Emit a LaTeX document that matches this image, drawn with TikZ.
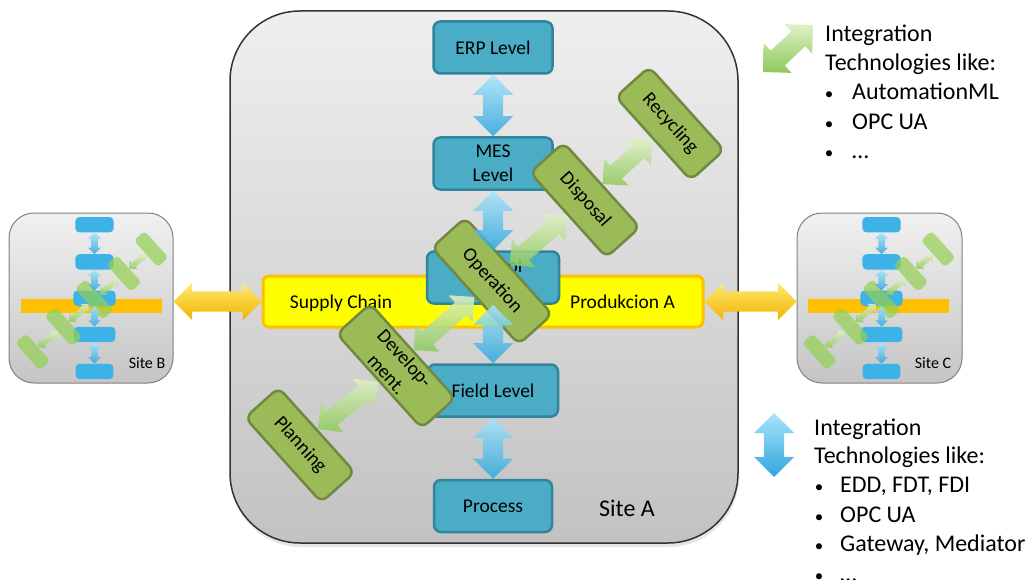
\documentclass[tikz,border=0pt]{standalone}
\usepackage{fontspec}
\setmainfont{Carlito}
\usetikzlibrary{shapes.arrows,calc,shadows}
\definecolor{boxblue}{HTML}{4BACC6}
\definecolor{boxblueD}{HTML}{31849B}
\definecolor{boxgreen}{HTML}{9BBB59}
\definecolor{boxgreenD}{HTML}{71893F}
\definecolor{ybarfill}{HTML}{FFFF00}
\definecolor{ybarline}{HTML}{FFC000}
\definecolor{arrblueL}{HTML}{A8E4FB}
\definecolor{arrblueD}{HTML}{30A6DC}
\definecolor{arrgreenL}{HTML}{E0F1C6}
\definecolor{arrgreenD}{HTML}{8DC958}
\definecolor{arryelL}{HTML}{FFEB70}
\definecolor{arryelD}{HTML}{F2B200}
\definecolor{siteTop}{HTML}{EFEFEF}
\definecolor{siteBot}{HTML}{C2C2C2}
\definecolor{miniblue}{HTML}{3DB2E6}
\definecolor{minigreen}{HTML}{92D050}
\definecolor{miniyellow}{HTML}{FFC000}

\newif\ifshowtext \showtexttrue
\newcommand\lbl[1]{\ifshowtext#1\fi}
\newcommand\lblfont{\fontsize{19.5}{24}\selectfont}
\newcommand\legfont{\fontsize{24}{29}\selectfont}

\newcommand\fatlink[3]{%
  \path let \p1=($(#3)-(#2)$), \n1={veclen(\x1,\y1)} in
    (#2) -- (#3) node[midway, sloped, #1, minimum height={\n1}] {};}

\newcommand\core[1]{%
  \node[chain] (#1ybar) at (483,301.5) {};
  \ifshowtext
    \node[font=\lblfont, anchor=base] (#1sc) at (341,308.3) {Supply Chain};
    \node[font=\lblfont, anchor=base] (#1pa) at (622.5,308.3) {Produkcion A};
  \fi
  \node[lvl] (#1erp) at (493,47.5) {\lbl{ERP Level}};
  \node[lvl] (#1mes) at (493,163.5) {\lbl{MES\\Level}};
  \node[lvl, minimum width=132pt] (#1ctl) at (493,277.5) {\lbl{Control\\Level}};
  \node[lvl, minimum width=130pt] (#1fld) at (493,390.5) {\lbl{Field Level}};
  \node[lvl, minimum width=118pt] (#1proc) at (493,506) {\lbl{Process}};
  \node[phase, minimum width=114pt] (#1plan) at (300,445) {\lbl{Planning}};
  \node[phase, minimum width=127pt] (#1dev) at (396,366) {\lbl{Develop-\\ment.}};
  \node[phase, minimum width=130pt] (#1op) at (492,281) {\lbl{Operation}};
  \node[phase, minimum width=114pt] (#1disp) at (585,200) {\lbl{Disposal}};
  \node[phase, minimum width=112pt] (#1rec) at (670,123.5) {\lbl{Recycling}};
  \fatlink{bluearr}{#1erp.south}{#1mes.north}
  \fatlink{bluearr}{#1mes.south}{#1ctl.north}
  \fatlink{bluearr}{#1ctl.south}{#1fld.north}
  \fatlink{bluearr}{#1fld.south}{#1proc.north}
  \fatlink{greenarr}{#1plan.north}{#1dev.south}
  \fatlink{greenarr}{#1dev.north}{#1op.south}
  \fatlink{greenarr}{#1op.north}{#1disp.south}
  \fatlink{greenarr}{#1disp.north}{#1rec.south}
}

\begin{document}
\begin{tikzpicture}[x=1pt, y=-1pt,
  lvl/.style={rectangle, rounded corners=7pt, draw=boxblueD, line width=2.5pt,
    fill=boxblue, minimum width=119pt, minimum height=52pt, align=center,
    font=\lblfont, inner sep=0pt},
  phase/.style={rectangle, rounded corners=8pt, draw=boxgreenD, line width=2.5pt,
    fill=boxgreen, minimum height=45pt, rotate=-48, align=center,
    font=\lblfont, inner sep=0pt},
  chain/.style={rectangle, rounded corners=6pt, draw=ybarline, line width=3pt,
    fill=ybarfill, minimum width=440pt, minimum height=51pt},
  fat/.style={double arrow, draw=none, inner xsep=0pt, inner ysep=10pt,
    double arrow head extend=10pt, double arrow tip angle=90, minimum width=0pt},
  bluearr/.style={fat, top color=arrblueL, bottom color=arrblueD, opacity=0.85},
  greenarr/.style={fat, inner ysep=8.5pt, double arrow head extend=9.5pt,
    top color=arrgreenL, bottom color=arrgreenD, opacity=0.85},
  yelarr/.style={fat, double arrow head extend=8.5pt,
    top color=arryelL, bottom color=arryelD},
  sitebox/.style={rectangle, draw=black!80, line width=1.5pt,
    top color=siteTop, bottom color=siteBot,
    drop shadow={shadow xshift=1pt, shadow yshift=-4pt, opacity=0.2}},
  smallsite/.style={rectangle, draw=black!50, line width=1pt, rounded corners=25pt,
    top color=siteTop!90!white, bottom color=siteBot!95!white},
  minisite/.style={transform shape,
    lvl/.style={rectangle, rounded corners=4pt, fill=miniblue,
      minimum width=119pt, minimum height=48pt, inner sep=0pt},
    phase/.style={rectangle, rounded corners=4pt, fill=minigreen, fill opacity=0.7,
      minimum height=45pt, rotate=-48, inner sep=0pt},
    chain/.style={rectangle, fill=miniyellow, minimum width=440pt, minimum height=44pt}},
  legtext/.style={font=\legfont, anchor=base west, inner sep=0pt},
  legbullet/.style={font=\fontsize{17}{20}\selectfont, anchor=base, inner sep=0pt}
]
\useasboundingbox (0,0) rectangle (1032,580);

% Site A
\node[sitebox, minimum width=508pt, minimum height=532pt, rounded corners=70pt]
  (siteA) at (484,277) {};
\node[font=\fontsize{24}{28}\selectfont, anchor=base] (siteAlbl) at (627,516.7) {Site A};

% Site B and C
\node[smallsite, minimum width=164pt, minimum height=170pt] (siteB) at (91,298) {};
\node[smallsite, minimum width=165pt, minimum height=170pt] (siteC) at (879.5,298) {};
\begin{scope}[shift={(94.5,306)}, scale=0.32, shift={(-493,-301.5)}, minisite]
  \showtextfalse
  \core{b}
\end{scope}
\begin{scope}[shift={(881.5,306)}, scale=0.32, shift={(-493,-301.5)}, minisite]
  \showtextfalse
  \core{c}
\end{scope}
\node[font=\fontsize{16}{19}\selectfont, anchor=base] (siteBlbl) at (147,368) {Site B};
\node[font=\fontsize{16}{19}\selectfont, anchor=base] (siteClbl) at (933,368) {Site C};

% Main content of Site A
\core{}

% links between sites
\coordinate (bE) at (siteB.east |- ybar.west);
\coordinate (cW) at (siteC.west |- ybar.east);
\fatlink{yelarr}{bE}{ybar.west}
\fatlink{yelarr}{ybar.east}{cW}

% Legend: green
\coordinate (lg1) at (763,72);
\coordinate (lg2) at (813,25);
\fatlink{greenarr, inner ysep=10pt, double arrow head extend=10pt, opacity=1}{lg1}{lg2}
\node[legtext] (g1) at (825,41.7) {Integration};
\node[legtext] (g2) at (825,71) {Technologies like:};
\node[legbullet] (gb1) at (829,100) {•};
\node[legtext] (g3) at (852,100) {AutomationML};
\node[legbullet] (gb2) at (829,130) {•};
\node[legtext] (g4) at (852,130) {OPC UA};
\node[legbullet] (gb3) at (829,159) {•};
\node[legtext] (g5) at (852,159) {…};

% Legend: blue
\coordinate (lb1) at (774,413);
\coordinate (lb2) at (774,477);
\fatlink{bluearr, opacity=1}{lb1}{lb2}
\node[legtext] (b1) at (814,435) {Integration};
\node[legtext] (b2) at (814,463.3) {Technologies like:};
\node[legbullet] (bb1) at (819,492.7) {•};
\node[legtext] (b3) at (840,492.7) {EDD, FDT, FDI};
\node[legbullet] (bb2) at (819,522.7) {•};
\node[legtext] (b4) at (840,522.7) {OPC UA};
\node[legbullet] (bb3) at (819,551.7) {•};
\node[legtext] (b5) at (840,551.7) {Gateway, Mediator};
\node[legbullet] (bb4) at (819,581) {•};
\node[legtext] (b6) at (840,581) {…};
\end{tikzpicture}
\end{document}
